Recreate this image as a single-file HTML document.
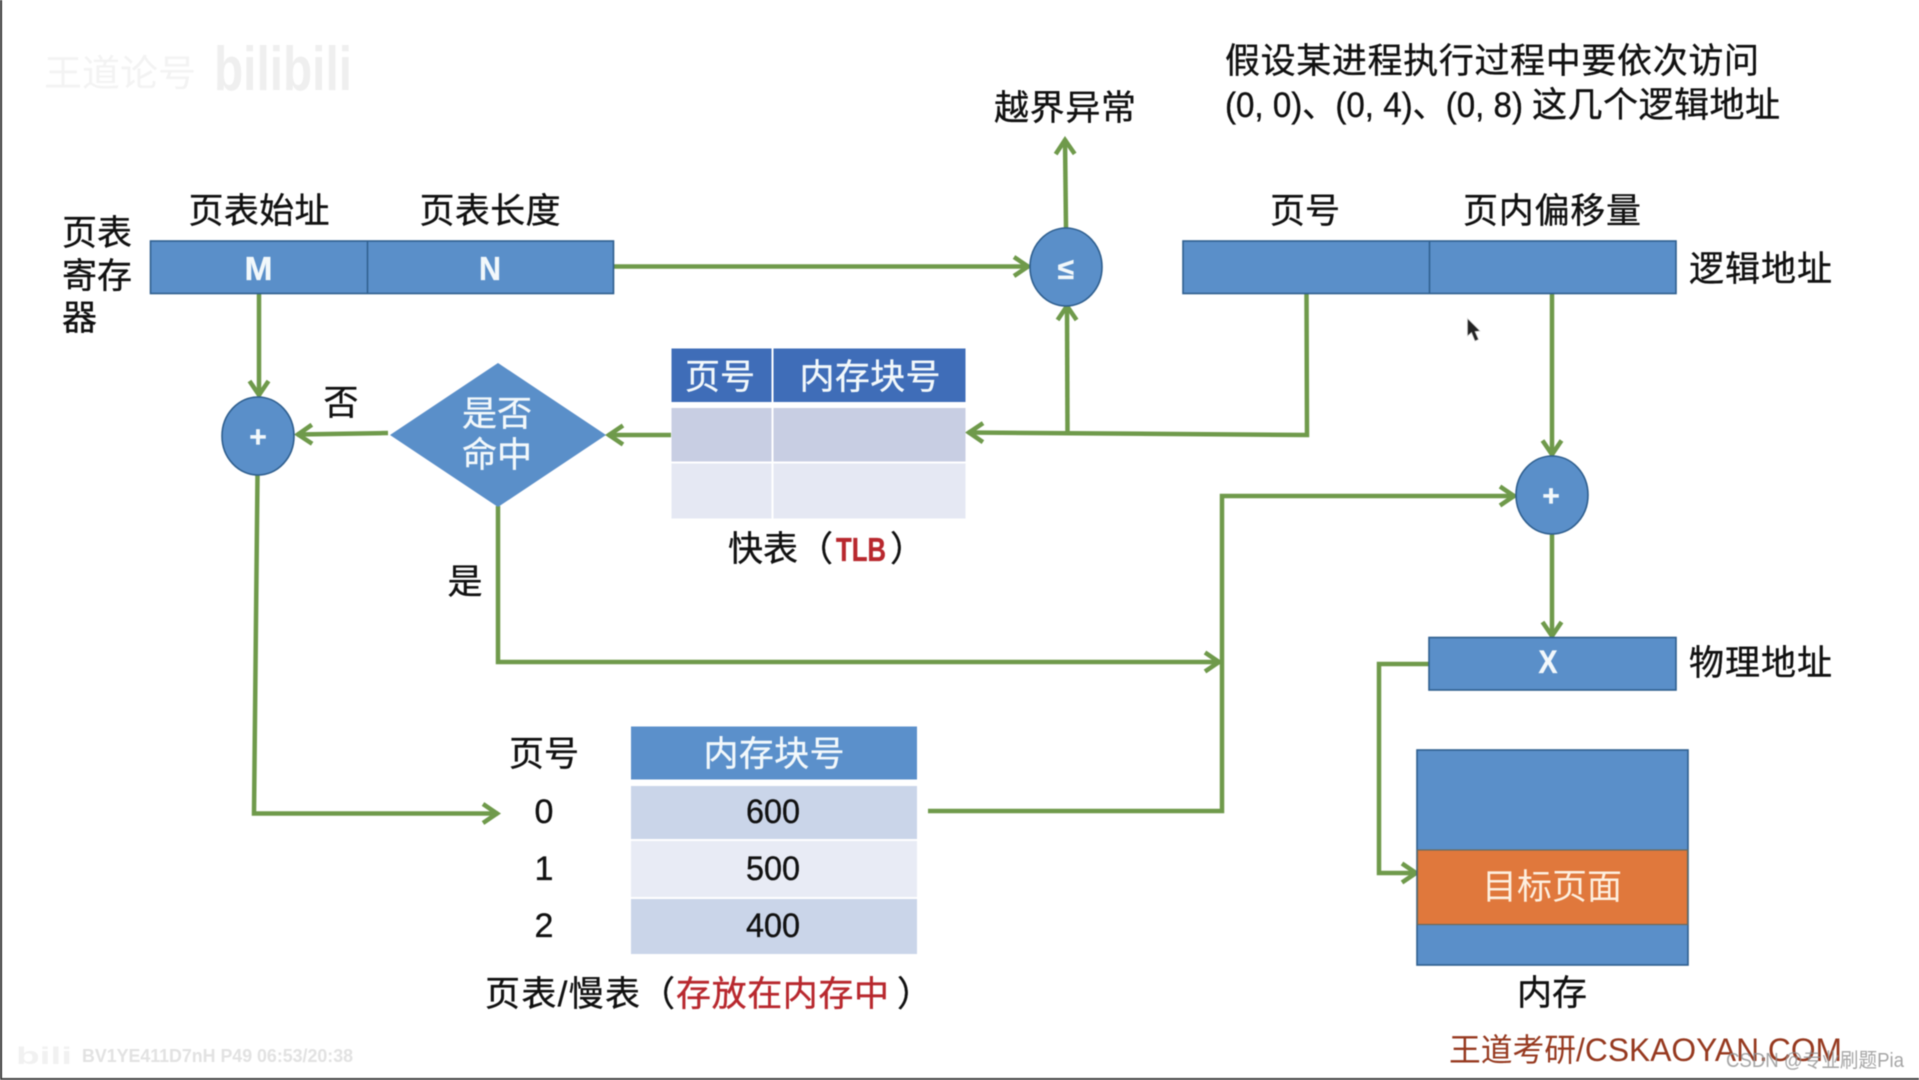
<!DOCTYPE html>
<html><head><meta charset="utf-8">
<style>
html,body{margin:0;padding:0;background:#fff;width:1919px;height:1080px;overflow:hidden}
svg{display:block;filter:blur(.4px)}
text{font-family:"Liberation Sans","Noto Sans CJK SC",sans-serif;font-size:35px;fill:#111;stroke:#111;stroke-width:.35px;text-anchor:middle;dominant-baseline:auto}
.w{fill:#f2f8fb;stroke:#f2f8fb}
.l{text-anchor:start}
.r{fill:#b8282e;stroke:#b8282e}
.g{fill:none;stroke:#6f9a4b;stroke-width:4.5;stroke-linejoin:miter}
.b{fill:#5a8fc9;stroke:#2f5f8f;stroke-width:1.6}
.n{stroke:none}
</style></head><body>
<svg width="1919" height="1080" viewBox="0 0 1919 1080" xmlns="http://www.w3.org/2000/svg">
<defs>
<marker id="a" markerUnits="userSpaceOnUse" markerWidth="30" markerHeight="30" refX="24" refY="15" orient="auto" overflow="visible">
<path d="M9,5.5 L23,15 L9,24.5" fill="none" stroke="#6f9a4b" stroke-width="4.5"/>
</marker>
</defs>
<rect x="0" y="0" width="1919" height="1080" fill="#fff"/>
<rect x="0" y="0" width="2" height="1080" fill="#333"/>
<rect x="0" y="1078" width="1919" height="2" fill="#444"/>

<!-- watermarks -->
<text class="l n" x="44" y="86" style="font-size:37px;fill:#f3f3f3" textLength="152" lengthAdjust="spacingAndGlyphs">王道论号</text>
<text class="l n" x="214" y="90" style="font-size:62px;font-weight:bold;fill:#efefef" textLength="138" lengthAdjust="spacingAndGlyphs">bilibili</text>
<text class="l n" x="16" y="1064" style="font-size:24px;font-weight:bold;fill:#f1f1f1" textLength="56" lengthAdjust="spacingAndGlyphs">bili</text>
<text class="l n" x="82" y="1062" style="font-size:18px;font-weight:bold;fill:#e2e2e2" textLength="271" lengthAdjust="spacingAndGlyphs">BV1YE411D7nH P49 06:53/20:38</text>

<!-- connectors -->
<path class="g" d="M614,266.5 L1029,266.5" marker-end="url(#a)"/>
<path class="g" d="M1066,228 L1065,139" marker-end="url(#a)"/>
<path class="g" d="M259,293 L259,396" marker-end="url(#a)"/>
<path class="g" d="M388,433 L297,434.5" marker-end="url(#a)"/>
<path class="g" d="M671,435 L608,435" marker-end="url(#a)"/>
<path class="g" d="M1306.5,293 L1307,435 L968,432.5" marker-end="url(#a)"/>
<path class="g" d="M1067.5,433 L1067,305" marker-end="url(#a)"/>
<path class="g" d="M1552,293 L1552,455.5" marker-end="url(#a)"/>
<path class="g" d="M928,811 L1222,811 L1222,496 L1515,496" marker-end="url(#a)"/>
<path class="g" d="M1552,534 L1552,637" marker-end="url(#a)"/>
<path class="g" d="M498,506 L498,662 L1220,662" marker-end="url(#a)"/>
<path class="g" d="M257.5,475 L254,813.5 L498,813.5" marker-end="url(#a)"/>
<path class="g" d="M1429,664 L1379,664 L1379,873 L1417,873" marker-end="url(#a)"/>

<!-- page table register -->
<rect class="b" x="150.5" y="241" width="463" height="52.5"/>
<line x1="367.5" y1="241" x2="367.5" y2="293.5" stroke="#2f5f8f" stroke-width="1.5"/>
<text x="259" y="223" textLength="141" lengthAdjust="spacing">页表始址</text>
<text x="490" y="223" textLength="141" lengthAdjust="spacing">页表长度</text>
<text class="l" x="62" y="245">页表</text>
<text class="l" x="62" y="288">寄存</text>
<text class="l" x="62" y="330">器</text>
<text class="w" x="258.5" y="280" style="font-size:33px;font-weight:bold" textLength="28" lengthAdjust="spacingAndGlyphs">M</text>
<text class="w" x="490" y="280" style="font-size:33px;font-weight:bold" textLength="22" lengthAdjust="spacingAndGlyphs">N</text>

<!-- logical address -->
<rect class="b" x="1183" y="241" width="493" height="52.5"/>
<line x1="1429.5" y1="241" x2="1429.5" y2="293.5" stroke="#2f5f8f" stroke-width="1.5"/>
<text x="1305" y="223">页号</text>
<text x="1552" y="223" textLength="178" lengthAdjust="spacing">页内偏移量</text>
<text class="l" x="1689" y="281" textLength="143" lengthAdjust="spacing">逻辑地址</text>

<!-- text top right -->
<text class="l" x="1225" y="73" textLength="534" lengthAdjust="spacing">假设某进程执行过程中要依次访问</text>
<text class="l" x="1225" y="117" textLength="298" lengthAdjust="spacingAndGlyphs">(0, 0)、(0, 4)、(0, 8)</text>
<text class="l" x="1532" y="117" textLength="248" lengthAdjust="spacing">这几个逻辑地址</text>
<text x="1065" y="120" textLength="142" lengthAdjust="spacing">越界异常</text>

<!-- circles -->
<ellipse class="b" cx="258" cy="436" rx="36" ry="39"/>
<text class="w" x="258" y="447" style="font-size:30px;font-weight:bold">+</text>
<ellipse class="b" cx="1066" cy="267" rx="36" ry="39"/>
<text class="w" x="1066" y="279" style="font-size:30px;font-weight:bold">≤</text>
<ellipse class="b" cx="1552" cy="495" rx="36" ry="39"/>
<text class="w" x="1551" y="506" style="font-size:30px;font-weight:bold">+</text>

<!-- diamond -->
<polygon points="390,434 498,362 606,434 498,506" fill="#5a8fc9" transform="translate(0,1)"/>
<text class="w" x="497" y="426">是否</text>
<text class="w" x="497" y="467">命中</text>
<text x="341" y="415">否</text>
<text x="465" y="594">是</text>

<!-- TLB -->
<rect x="671.5" y="348.5" width="100" height="53.5" fill="#3f6db8"/>
<rect x="773.5" y="348.5" width="192" height="53.5" fill="#3f6db8"/>
<rect x="671.5" y="408" width="100" height="53.5" fill="#c8cee3"/>
<rect x="773.5" y="408" width="192" height="53.5" fill="#c8cee3"/>
<rect x="671.5" y="463.5" width="100" height="55" fill="#e5e8f3"/>
<rect x="773.5" y="463.5" width="192" height="55" fill="#e5e8f3"/>
<text class="w" x="720" y="389">页号</text>
<text class="w" x="870" y="389" textLength="141" lengthAdjust="spacing">内存块号</text>
<text class="l" x="728" y="561">快表（</text>
<text class="l r" x="836" y="561" style="font-size:33px;font-weight:bold" textLength="50" lengthAdjust="spacingAndGlyphs">TLB</text>
<text class="l" x="890" y="561">）</text>

<!-- page table -->
<rect x="631" y="726.5" width="286" height="53" fill="#5b90cb"/>
<rect x="631" y="786" width="286" height="53" fill="#cad5e9"/>
<rect x="631" y="841" width="286" height="56" fill="#e8ebf5"/>
<rect x="631" y="899" width="286" height="55" fill="#cad5e9"/>
<text class="w" x="774" y="766" textLength="141" lengthAdjust="spacing">内存块号</text>
<text x="544" y="766">页号</text>
<text x="544" y="823" style="font-size:34px">0</text>
<text x="544" y="880" style="font-size:34px">1</text>
<text x="544" y="937" style="font-size:34px">2</text>
<text x="773" y="823" style="font-size:34px" textLength="54" lengthAdjust="spacingAndGlyphs">600</text>
<text x="773" y="880" style="font-size:34px" textLength="54" lengthAdjust="spacingAndGlyphs">500</text>
<text x="773" y="937" style="font-size:34px" textLength="54" lengthAdjust="spacingAndGlyphs">400</text>
<text class="l" x="485" y="1006" textLength="155" lengthAdjust="spacing">页表/慢表</text>
<text class="l" x="640" y="1006">（</text>
<text class="l r" x="676" y="1006" textLength="213" lengthAdjust="spacing">存放在内存中</text>
<text class="l" x="897" y="1006">）</text>

<!-- physical address -->
<rect class="b" x="1429" y="637.5" width="247" height="52.5"/>
<text class="w" x="1548" y="673" style="font-size:32px;font-weight:bold" textLength="19" lengthAdjust="spacingAndGlyphs">X</text>
<text class="l" x="1689" y="675" textLength="143" lengthAdjust="spacing">物理地址</text>

<!-- memory -->
<rect class="b" x="1417" y="750" width="271" height="215"/>
<rect x="1417.5" y="850" width="270" height="74.5" fill="#e0783c" stroke="#6a6a5a" stroke-width="1.2"/>
<text class="n" x="1552" y="899" style="fill:#fdefdf">目标页面</text>
<text x="1552" y="1005">内存</text>

<!-- footer -->
<text class="l n" x="1449" y="1061" style="font-size:32px;fill:#96391f" textLength="393" lengthAdjust="spacingAndGlyphs">王道考研/CSKAOYAN.COM</text>
<text class="l n" x="1726" y="1067" style="font-size:20px;fill:#8f8f8f;opacity:.8" textLength="178" lengthAdjust="spacingAndGlyphs">CSDN @专业刷题Pia</text>

<!-- cursor -->
<polygon points="1467.5,318.5 1467.5,336 1471.5,332.5 1475,341 1478.5,339.5 1475,331.5 1480,331" fill="#222" stroke="#ccc" stroke-width=".7"/>
</svg>
</body></html>
